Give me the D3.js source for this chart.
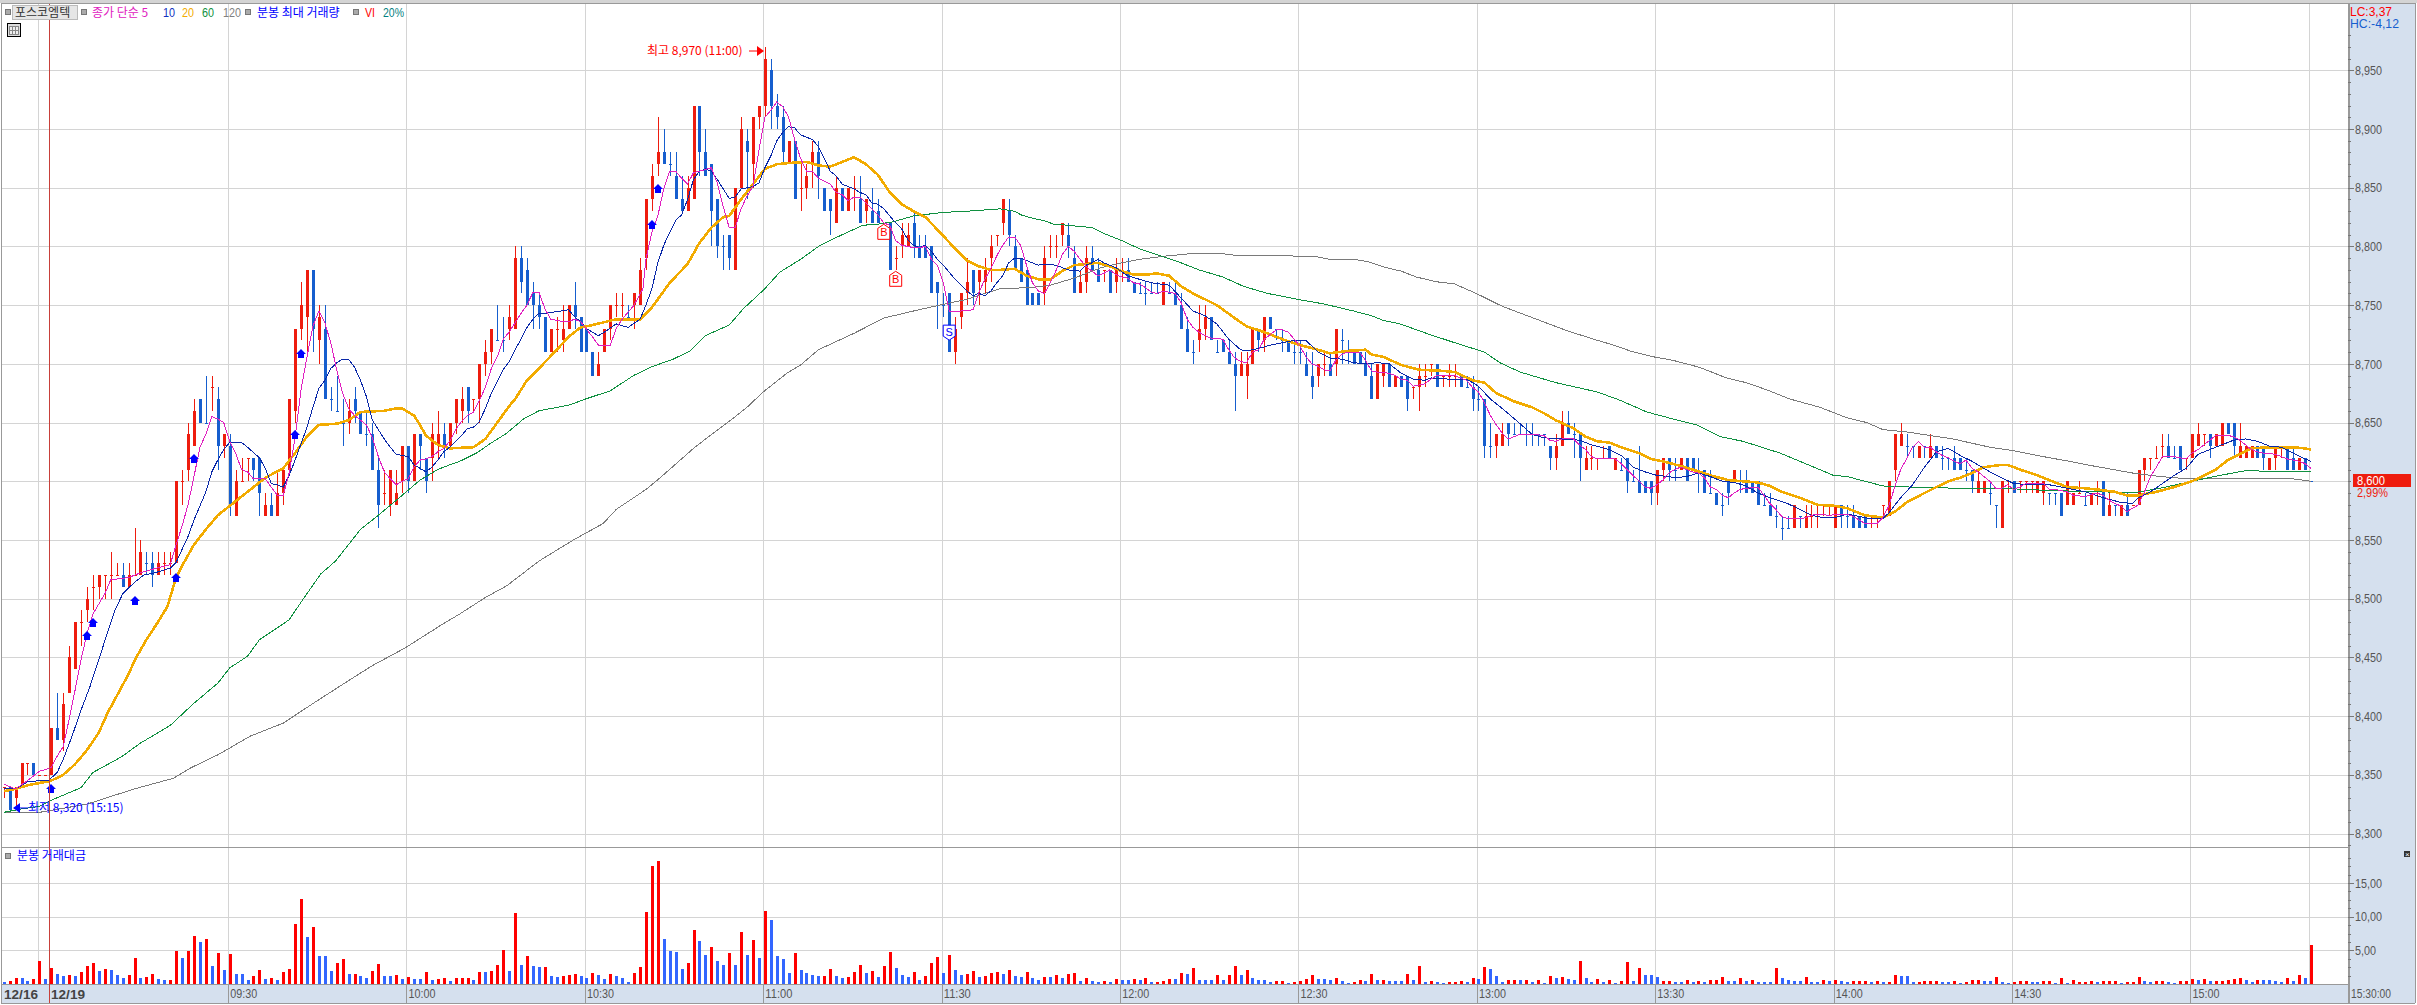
<!DOCTYPE html>
<meta charset="utf-8">
<style>
    body { margin: 0; background: #fff; }
    svg { display: block; }
    text { font-family: 'Liberation Sans', Arial, sans-serif; font-size: 13px; }
    .ko { font-family: 'Noto Sans CJK KR', sans-serif; font-size: 12px; }
</style>
<!-- Load d3.js -->
<script src="https://d3js.org/d3.v7.min.js"></script>
<div id="my_dataviz"></div>
<script>

// one minute candles, index 0-7 are the end of 12/16, index 8 is 09:00 on 12/19
var opens = [
  8340,8340,8330,8340,8360,8360,8350,8350,8350,8390,
  8380,8420,8440,8480,8490,8510,8510,8520,8520,8520,
  8520,8510,8520,8520,8530,8530,8520,8530,8530,8530,
  8600,8610,8630,8670,8650,8680,8670,8630,8630,8570,
  8600,8620,8620,8620,8570,8580,8570,8590,8610,8660,
  8730,8740,8780,8720,8730,8670,8660,8650,8650,8670,
  8660,8640,8640,8610,8590,8580,8580,8600,8630,8600,
  8640,8620,8620,8630,8640,8630,8650,8660,8680,8670,
  8670,8700,8710,8720,8720,8730,8730,8790,8780,8760,
  8750,8740,8710,8730,8720,8730,8750,8740,8730,8710,
  8690,8710,8730,8750,8750,8740,8750,8750,8790,8840,
  8870,8880,8870,8860,8840,8830,8840,8920,8880,8870,
  8840,8800,8810,8780,8850,8890,8870,8910,8920,8950,
  8920,8910,8870,8890,8850,8850,8870,8880,8850,8840,
  8820,8850,8830,8850,8840,8830,8830,8830,8820,8820,
  8790,8800,8800,8820,8800,8800,8800,8770,8750,8760,
  8710,8740,8760,8780,8770,8770,8790,8810,8820,8830,
  8800,8790,8780,8760,8760,8760,8800,8800,8810,8810,
  8790,8760,8770,8790,8780,8780,8780,8770,8780,8780,
  8770,8760,8760,8760,8760,8750,8760,8760,8750,8730,
  8710,8720,8730,8740,8710,8720,8710,8700,8690,8690,
  8700,8730,8720,8740,8730,8720,8720,8710,8710,8700,
  8690,8690,8700,8700,8700,8720,8710,8710,8710,8700,
  8690,8670,8690,8700,8680,8690,8690,8680,8680,8690,
  8700,8700,8690,8690,8690,8690,8680,8680,8670,8670,
  8630,8630,8630,8650,8640,8640,8640,8640,8640,8640,
  8630,8620,8630,8650,8640,8640,8610,8620,8620,8620,
  8630,8610,8610,8620,8600,8600,8600,8600,8590,8610,
  8620,8610,8610,8620,8620,8610,8610,8590,8590,8580,
  8600,8600,8600,8600,8600,8600,8580,8580,8570,8560,
  8560,8560,8570,8560,8570,8570,8580,8580,8560,8580,
  8570,8570,8570,8570,8570,8570,8580,8570,8610,8630,
  8630,8630,8620,8630,8620,8630,8620,8620,8620,8620,
  8610,8610,8590,8590,8590,8580,8560,8600,8600,8600,
  8600,8600,8590,8590,8590,8590,8590,8580,8580,8590,
  8580,8580,8590,8600,8570,8580,8570,8580,8580,8580,
  8610,8620,8620,8630,8630,8620,8630,8620,8620,8630,
  8640,8640,8630,8630,8650,8650,8620,8620,8620,8630,
  8630,8610,8620,8630,8630,8620,8610,8620,8600];
var highs = [
  8340,8340,8340,8360,8360,8360,8350,8350,8390,8420,
  8420,8460,8480,8490,8510,8520,8520,8520,8540,8530,
  8530,8530,8560,8550,8540,8540,8540,8540,8540,8600,
  8610,8650,8670,8670,8690,8690,8680,8640,8640,8610,
  8620,8620,8620,8620,8590,8590,8610,8610,8670,8730,
  8770,8780,8780,8750,8750,8680,8690,8670,8670,8680,
  8660,8660,8650,8620,8610,8610,8610,8630,8630,8640,
  8640,8620,8650,8660,8650,8650,8670,8680,8680,8670,
  8700,8720,8730,8750,8740,8750,8800,8800,8790,8770,
  8760,8740,8730,8740,8750,8750,8770,8740,8730,8710,
  8710,8730,8750,8760,8760,8750,8760,8790,8840,8870,
  8910,8900,8880,8880,8860,8860,8920,8920,8900,8870,
  8840,8810,8810,8850,8910,8900,8910,8920,8970,8960,
  8930,8920,8890,8890,8870,8870,8890,8890,8850,8840,
  8860,8850,8850,8860,8860,8840,8850,8840,8820,8820,
  8800,8820,8820,8830,8810,8810,8800,8770,8760,8760,
  8740,8760,8790,8780,8780,8790,8810,8810,8840,8840,
  8810,8790,8780,8760,8760,8800,8810,8810,8820,8820,
  8800,8780,8800,8800,8790,8780,8780,8790,8790,8790,
  8770,8770,8770,8770,8770,8770,8770,8770,8760,8740,
  8720,8750,8750,8740,8720,8720,8720,8710,8710,8710,
  8730,8730,8740,8740,8730,8730,8720,8720,8720,8710,
  8710,8700,8710,8710,8730,8730,8720,8710,8710,8710,
  8700,8700,8700,8700,8690,8690,8690,8680,8700,8700,
  8700,8700,8690,8700,8700,8690,8690,8690,8680,8670,
  8650,8640,8650,8650,8650,8650,8650,8650,8640,8640,
  8630,8640,8660,8660,8650,8640,8630,8630,8620,8630,
  8630,8620,8620,8620,8610,8630,8600,8600,8610,8620,
  8620,8620,8620,8620,8620,8620,8610,8610,8590,8590,
  8600,8610,8610,8610,8600,8600,8590,8590,8580,8570,
  8570,8580,8570,8580,8580,8580,8580,8580,8580,8580,
  8580,8580,8570,8570,8570,8570,8580,8600,8640,8650,
  8640,8630,8630,8630,8640,8630,8630,8620,8630,8620,
  8620,8610,8610,8600,8600,8580,8600,8600,8600,8600,
  8600,8600,8600,8600,8590,8590,8590,8600,8590,8600,
  8590,8590,8600,8600,8590,8580,8580,8590,8580,8610,
  8620,8620,8630,8640,8640,8630,8630,8620,8640,8650,
  8640,8640,8640,8650,8650,8650,8650,8630,8630,8630,
  8630,8620,8630,8630,8630,8630,8620,8620,8600];
var lows = [
  8330,8320,8320,8340,8350,8350,8350,8350,8350,8380,
  8370,8420,8440,8460,8480,8490,8500,8500,8500,8520,
  8510,8510,8520,8520,8520,8510,8520,8520,8520,8530,
  8580,8600,8630,8650,8650,8660,8610,8620,8570,8570,
  8600,8600,8600,8570,8570,8570,8570,8580,8610,8650,
  8720,8710,8710,8700,8670,8660,8660,8630,8640,8650,
  8640,8630,8610,8560,8580,8570,8580,8590,8590,8600,
  8610,8590,8600,8620,8620,8630,8640,8650,8650,8660,
  8650,8690,8700,8720,8710,8720,8730,8760,8750,8730,
  8730,8710,8710,8710,8710,8730,8730,8710,8710,8690,
  8690,8710,8720,8740,8740,8740,8730,8750,8780,8830,
  8860,8870,8860,8840,8830,8830,8840,8860,8860,8800,
  8790,8780,8780,8780,8850,8840,8850,8900,8910,8900,
  8900,8870,8870,8840,8830,8840,8850,8840,8830,8810,
  8820,8830,8830,8830,8820,8820,8820,8820,8820,8780,
  8780,8790,8800,8790,8790,8790,8760,8730,8740,8710,
  8700,8730,8750,8750,8750,8760,8770,8800,8810,8800,
  8780,8770,8750,8750,8750,8750,8790,8790,8800,8790,
  8760,8760,8760,8780,8770,8770,8760,8760,8770,8770,
  8760,8760,8750,8760,8760,8750,8760,8750,8730,8710,
  8700,8710,8720,8720,8710,8710,8700,8660,8690,8670,
  8700,8710,8710,8730,8720,8710,8710,8700,8700,8690,
  8670,8680,8690,8690,8690,8700,8700,8700,8700,8690,
  8670,8670,8680,8680,8680,8680,8660,8670,8660,8680,
  8690,8680,8680,8680,8680,8680,8680,8660,8660,8620,
  8620,8620,8630,8630,8640,8640,8630,8630,8630,8630,
  8610,8610,8630,8640,8620,8600,8610,8610,8610,8620,
  8620,8610,8610,8590,8600,8590,8590,8580,8580,8600,
  8600,8600,8610,8600,8610,8590,8590,8590,8580,8570,
  8580,8600,8590,8590,8590,8580,8580,8570,8560,8550,
  8560,8560,8560,8560,8560,8560,8570,8570,8560,8560,
  8560,8560,8560,8560,8560,8560,8570,8570,8600,8630,
  8620,8620,8620,8620,8620,8620,8610,8610,8610,8610,
  8600,8590,8590,8590,8580,8560,8560,8590,8590,8590,
  8590,8590,8590,8580,8580,8580,8570,8580,8580,8590,
  8580,8580,8580,8570,8570,8570,8570,8570,8580,8580,
  8600,8610,8620,8620,8620,8620,8610,8610,8620,8630,
  8630,8620,8630,8630,8640,8620,8620,8620,8620,8620,
  8610,8610,8610,8620,8610,8610,8610,8610,8600];
var closes = [
  8340,8320,8340,8360,8360,8350,8350,8350,8390,8380,
  8410,8450,8480,8480,8500,8510,8520,8520,8520,8520,
  8510,8520,8520,8540,8530,8520,8530,8530,8530,8600,
  8600,8640,8660,8650,8650,8680,8630,8640,8580,8600,
  8600,8620,8610,8590,8580,8570,8590,8610,8670,8730,
  8750,8780,8730,8740,8670,8670,8660,8650,8660,8660,
  8640,8640,8610,8580,8590,8610,8590,8630,8600,8640,
  8630,8600,8640,8640,8630,8650,8670,8670,8660,8670,
  8700,8710,8730,8720,8720,8740,8790,8770,8750,8750,
  8740,8710,8730,8730,8730,8750,8740,8710,8710,8690,
  8700,8730,8750,8750,8750,8740,8760,8780,8840,8860,
  8880,8870,8870,8840,8830,8850,8920,8880,8860,8830,
  8800,8800,8790,8850,8900,8880,8910,8920,8960,8920,
  8910,8880,8890,8840,8850,8860,8880,8860,8830,8830,
  8850,8830,8850,8850,8820,8840,8820,8820,8820,8780,
  8790,8810,8810,8800,8790,8790,8760,8760,8750,8710,
  8730,8760,8770,8760,8780,8780,8800,8810,8840,8810,
  8780,8770,8750,8750,8750,8790,8800,8800,8820,8800,
  8760,8770,8790,8780,8770,8780,8760,8780,8780,8770,
  8760,8760,8760,8760,8760,8770,8760,8750,8730,8710,
  8710,8730,8740,8720,8710,8710,8700,8690,8700,8700,
  8730,8720,8740,8730,8730,8720,8710,8710,8710,8690,
  8680,8700,8700,8690,8730,8720,8710,8700,8700,8690,
  8670,8700,8700,8680,8690,8680,8670,8680,8690,8690,
  8700,8680,8690,8690,8690,8680,8680,8670,8670,8630,
  8630,8640,8640,8640,8640,8640,8640,8640,8640,8640,
  8620,8630,8650,8640,8640,8620,8620,8620,8620,8620,
  8620,8620,8610,8600,8600,8590,8590,8590,8610,8620,
  8610,8610,8620,8600,8610,8610,8590,8590,8580,8580,
  8590,8610,8600,8590,8590,8580,8580,8570,8570,8560,
  8560,8580,8570,8570,8570,8570,8580,8580,8580,8570,
  8570,8560,8560,8560,8570,8570,8580,8600,8640,8640,
  8630,8630,8630,8630,8630,8620,8620,8620,8610,8610,
  8610,8600,8600,8600,8590,8580,8600,8600,8590,8600,
  8600,8600,8600,8600,8590,8590,8570,8600,8590,8590,
  8580,8590,8590,8570,8580,8580,8580,8570,8580,8610,
  8620,8620,8620,8630,8620,8620,8610,8620,8640,8640,
  8640,8630,8640,8650,8640,8630,8630,8630,8630,8620,
  8620,8620,8630,8630,8610,8610,8620,8610,8600];

// flat candles drawn blue, all other flat candles are red
var blueDoji = [24,34,55,56,57,61,83,84,105,112,121,158,191,192,193,194,196,200,204,214,215,217,218,
  225,226,246,248,250,254,255,256,257,258,259,264,272,274,281,285,287,289,292,296,298,299,300,302,310,
  320,321,323,326,327,330,334,335,344,345,350,355,365,388];

// minute value traded, negative = blue bar
var volumes = [
  -0.3,0.4,0.9,-0.9,-0.45,0.75,3.45,-0.75,2.4,-1.5,
  -1.2,1.35,-1.2,1.8,2.7,3.15,-1.95,2.25,-2.1,-1.35,
  -0.9,1.35,3.9,-0.9,1.05,1.5,-0.75,-0.6,0.6,4.95,
  -3.9,4.95,7.2,-6.3,6.75,-2.7,4.65,-2.1,4.5,-1.5,
  -1.5,-0.6,1.2,2.1,-0.75,0.9,-0.6,1.8,2.25,8.85,
  12.6,-7.05,8.4,-4.2,-4.2,-1.95,3.15,3.75,-1.5,1.5,
  -1.2,-0.9,1.95,3,-1.2,-1.2,1.35,-0.75,1.05,-0.75,
  -0.75,1.8,-0.6,0.75,0.9,-0.45,0.9,0.9,0.9,-0.6,
  1.8,-1.8,1.95,2.85,
  5.0,-1.95,10.5,-2.85,4.2,-2.7,-2.55,2.55,-1.2,-1.05,
  1.2,1.35,1.5,-1.2,-0.9,1.65,-1.35,-0.75,1.5,-1.2,
  -0.9,-0.3,1.65,2.55,10.65,17.55,18.3,-6.75,-4.95,-4.8,
  -2.25,3.15,7.95,-6.45,-4.35,5.55,-3.45,-2.85,4.65,-2.85,
  7.65,-4.35,6.6,-3.9,10.8,-9.45,-4.2,-3.75,-1.65,4.65,
  -2.1,-1.65,-1.35,-1.2,1.2,2.25,-1.2,-0.9,1.05,1.8,
  2.85,-1.65,1.95,-1.05,2.7,4.8,-2.4,-1.35,-1.05,1.8,
  -0.6,1.2,3.15,4.05,-1.65,4.35,-2.1,-1.35,1.5,1.95,
  -1.05,1.2,1.65,1.8,-1.5,2.1,-1.2,-1.05,1.8,-0.9,
  -0.6,1.05,-1.05,1.35,-0.9,1.5,1.65,-0.45,0.9,-0.45,
  -0.3,0.45,-0.3,0.75,-0.6,-0.6,0.75,-0.6,0.9,-0.3,
  0.3,0.45,0.75,-0.75,1.65,-1.5,2.4,-0.6,
  -0.6,-0.6,1.35,-0.6,1.35,2.7,-1.35,2.1,-0.9,-0.6,
  -0.6,-0.3,0.45,0.45,-0.15,0.3,0.45,0.75,1.35,-0.75,
  -0.75,-0.6,0.9,-0.45,-0.15,0.3,0.6,-0.45,1.5,-0.6,
  0.6,-0.45,-0.45,-0.45,1.5,-0.6,2.7,-0.3,0.45,-0.3,
  -0.15,0.3,0.3,0.45,-0.3,0.9,-0.75,2.55,-2.25,-1.2,
  -0.3,0.6,0.6,-0.6,0.6,-0.3,0.6,-0.15,1.2,-0.9,
  1.05,-0.75,-0.6,3.45,-0.9,-0.3,0.75,-0.3,0.6,-0.15,
  0.45,3.3,-0.45,2.4,-1.35,-1.35,-1.05,0.45,0.45,-0.3,
  -0.3,0.6,-0.3,0.45,-0.3,0.6,0.6,1.05,-0.45,-0.45,
  0.9,-0.45,0.6,-0.3,-0.3,-0.3,2.4,-0.9,-0.6,-0.45,
  -0.45,1.05,-0.3,-0.3,0.6,-0.45,0.6,-0.45,-0.3,0.45,
  0.45,0.45,-0.3,0.45,-0.3,0.3,1.35,-1.2,-1.2,-0.3,
  0.3,0.45,0.45,0.45,-0.3,-0.3,0.45,-0.15,0.3,0.6,
  0.6,-0.45,-0.45,1.05,-0.3,-0.15,0.3,0.45,0.45,-0.3,
  -0.3,0.45,0.45,-0.15,0.9,-0.15,0.6,0.3,0.3,0.45,
  -0.3,0.45,0.45,0.45,-0.15,0.3,0.3,1.05,-0.45,-0.3,
  0.45,0.45,-0.3,-0.15,0.45,0.45,0.75,-0.6,0.75,-0.45,
  0.45,0.45,0.6,0.75,0.9,-0.6,-0.3,0.6,-0.6,-0.6,
  -0.45,-0.3,0.9,-0.45,1.35,-0.9,5.85];

// moving averages as [candle index, price]
var ma5 = [[0,8342],[2,8338],[4,8345],[6,8353],[8,8356],[9,8366],[10,8374],[11,8397],[12,8422],[13,8448],[14,8470],[15,8487],[17,8504],[18,8516],[21,8518],[23,8522],[25,8525],[28,8529],
  [29,8546],[30,8562],[31,8580],[32,8604],[33,8629],[34,8640],[35,8655],[36,8653],[37,8650],[38,8634],[39,8624],[40,8610],[41,8608],[42,8602],[44,8602],[46,8588],[47,8588],
  [48,8607],[49,8637],[50,8678],[51,8706],[52,8732],[53,8745],[54,8735],[55,8718],[56,8695],[57,8675],[58,8662],[59,8656],[60,8652],[61,8648],[62,8637],[63,8621],[64,8608],[65,8602],[66,8597],[67,8600],[68,8602],[69,8612],[70,8618],[71,8619],[72,8621],[73,8625],[74,8628],[75,8634],[76,8644],[77,8651],[78,8656],[79,8659],[80,8669],[81,8680],[82,8696],[83,8706],[84,8721],[85,8727],[86,8735],[87,8743],[88,8750],
  [89,8761],[90,8761],[91,8747],[92,8738],[94,8736],[95,8736],[96,8738],[97,8736],[99,8723],[100,8716],[102,8716],[103,8730],[104,8738],[106,8750],[107.5,8764],[108,8789],[109,8812],[110,8826],[111,8849],[112,8864],[113,8864],[114,8858],[115,8853],[116,8863],[117,8864],[119,8867],[120,8854],[121,8834],[122,8816],[123,8816],[124,8832],[125,8843],[126,8851],[127,8882],[128,8910],[129,8916],[130,8923],[131,8919],[132,8910],[133,8891],[134,8875],[135,8864],[136,8864],[137,8858],[139,8853],[140,8846],[141,8844],[142,8839],[143,8842],[144,8842],[145,8837],[146,8832],[147,8827],[148,8820],[149,8818],[150,8805],[151,8801],[152,8800],[153,8799],[154,8799],[155,8800],[156,8789],[157,8784],[158,8769],[159,8745],[160,8745],[161,8745],[163,8746],[164,8761],[165,8772],[166,8781],[167,8792],
  [168,8801],[169,8808],[170,8808],[171,8801],[172,8784],[173,8769],[174,8762],[175,8760],[176,8769],[177,8780],[178,8793],[179,8800],[180,8796],[181,8789],[182,8783],[183,8779],[184,8775],[185,8777],[186,8780],[187,8776],[188,8774],[189,8773],[190,8769],[191,8768],[192,8765],[193,8761],[194,8760],[195,8762],[196,8761],[197,8760],[198,8752],[199,8738],[200,8731],[201,8727],[202,8724],[203,8722],[205,8721],[206,8712],[207,8705],[208,8702],[209,8701],[210,8710],[211,8712],[212,8721],[213,8725],[214,8729],[215,8729],[216,8727],[217,8721],[218,8715],[219,8706],[220,8700],[221,8698],[222,8695],[223,8694],[224,8703],[225,8708],[226,8710],[228,8710],[229,8703],[230,8694],[231,8693],[233,8692],[234,8690],[235,8687],[236,8686],[237,8681],[238,8682],[239,8683],[240,8687],[241,8690],[244,8690],[245,8688],[246,8686],[247,8680],[248,8676],[249,8667],[250,8656],[251,8648],
  [252,8641],[253,8636],[254,8638],[255,8640],[257,8640],[259,8639],[260,8635],[261,8634],[262,8636],[264,8636],[265,8631],[266,8627],[267,8621],[268,8619],[270,8619],[271,8619],[272,8615],[273,8610],[274,8605],[275,8600],[276,8595],[277,8594],[278,8597],[279,8601],[280,8607],[281,8610],[282,8612],[283,8610],[284,8608],[285,8607],[286,8603],[287,8595],[288,8593],[289,8588],[290,8586],[291,8590],[292,8593],[293,8594],[295,8595],[296,8588],[297,8581],[298,8576],[299,8570],[300,8568],[302,8568],[303,8569],[304,8571],[305,8572],[307,8571],[309,8572],[310,8572],[311,8570],[312,8567],[313,8564],[315,8564],[316,8569],[317,8579],[318,8595],[319,8610],[320,8619],[321,8629],[322,8634],[323,8629],[324,8629],[325,8625],[326,8622],[327,8620],[328,8617],[329,8615],
  [330,8618],[331,8611],[332,8608],[333,8604],[334,8600],[335,8594],[336,8594],[337,8597],[338,8593],[339,8595],[340,8598],[343,8598],[344,8593],[345,8593],[347,8591],[348,8588],[350,8587],[352,8590],[353,8588],[354,8584],[355,8581],[356,8579],[357,8574],[358,8577],[359,8580],[360,8591],[361,8604],[362,8612],[363,8621],[365,8621],[366,8620],[367,8619],[368,8624],[369,8627],[370,8631],[371,8635],[372,8639],[374,8639],[375,8638],[376,8635],[377,8631],[378,8627],[379,8625],[380,8624],[382,8623],[383,8621],[384,8619],[385,8618],[386,8617],[387,8615],[388,8611]];

var ma10 = [[0,8338],[2,8338],[4,8344],[6,8345],[7.5,8345],[9,8352],[10,8363],[11.5,8383],[13,8405],[14.5,8425],[16,8448],[17.3,8469],[18.7,8490],[20,8504],[21.8,8513],[23.5,8520],[25.4,8522],[28,8526],
  [29,8531],[30,8542],[31,8553],[32,8567],[33,8579],[34,8591],[35,8608],[36,8618],[37,8627],[38,8633],[40,8633],[41,8629],[43,8620],[44,8611],[45,8598],[46,8597],[47,8595],[48,8605],[49,8618],[50,8632],[51,8646],[52,8663],[53,8679],[54,8686],[55,8696],[56,8701],[57,8704],[58,8704],[59,8697],[60,8686],[61,8672],[62,8652],[63,8644],[64,8636],[65,8629],[66,8623],[67,8622],[68,8621],[69,8614],[70,8611],[71,8608],[72,8612],[73,8618],[74,8625],[75,8629],[76,8634],[77,8639],[78,8645],[79,8646],[80,8651],[81,8662],[82,8675],[83,8685],[84,8695],[85,8702],[86,8712],[87,8721],[88,8731],
  [89,8738],[90,8743],[91,8743],[95,8746],[96,8740],[97,8736],[98,8730],[100,8724],[101,8727],[103,8734],[105,8731],[107,8738],[108,8750],[109,8764],[110,8786],[111,8801],[112,8812],[113,8822],[114,8827],[115,8840],[116,8857],[117,8864],[118,8866],[119,8864],[120,8857],[121,8849],[122,8841],[123,8842],[124,8849],[126,8851],[127,8854],[128,8867],[129,8877],[130,8890],[131,8897],[132,8902],[133,8901],[134,8895],[135,8893],[136,8891],[137,8885],[138,8875],[139,8864],[140,8860],[141,8853],[143,8849],[144,8846],[145,8844],[146,8837],[147,8836],[148,8832],[149,8826],[150,8820],[151,8815],[152,8806],[153,8801],[154,8799],[155,8801],[156,8796],[157,8789],[158,8784],[159,8778],[160,8772],[161,8767],[162,8762],[163,8758],[164,8760],[165,8758],[166,8762],[167,8769],
  [168,8775],[169,8786],[170,8790],[171,8790],[172,8788],[174,8784],[175,8785],[177,8784],[179,8780],[181,8779],[182,8784],[183,8786],[184,8789],[185,8786],[187,8782],[189,8775],[191,8772],[193,8769],[196,8767],[198,8756],[200,8745],[202,8741],[204,8734],[206,8721],[208,8712],[209,8711],[211,8713],[213,8716],[215,8718],[217,8720],[219,8720],[221,8710],[223,8705],[225,8704],[227,8701],[229,8700],[231,8701],[233,8700],[235,8692],[237,8687],[239,8686],[240,8688],[243,8687],[246,8687],[248,8681],[250,8670],[252,8662],
  [255,8649],[257,8640],[259,8637],[262,8636],[265,8635],[267,8631],[270,8627],[272,8622],[274,8612],[276,8608],[278,8605],[280,8604],[281,8603],[283,8604],[285,8607],[287,8604],[289,8600],[291,8599],[293,8596],[295,8590],[297,8586],[300,8581],[302,8576],[304,8571],[306,8569],[308,8569],[310,8572],[312,8570],[314,8568],[316,8568],[317,8573],[319,8586],[321,8597],[323,8612],[325,8625],[327,8628],[329,8622],[331,8617],[334,8608],[336,8603],[338,8598],[341,8597],[344,8597],[347,8594],[350,8591],[353,8586],[356,8582],[358,8581],[359,8586],[361,8591],[363,8598],[365,8605],[367,8611],[369,8623],[371,8627],[373,8631],[375,8635],[377,8636],[379,8634],[381,8630],[383,8629],[385,8624],[387,8619],[388,8617]];

var ma20 = [[0,8336],[2,8338],[4,8341],[6,8343],[8,8345],[10,8350],[12,8359],[14,8371],[16,8386],[17.5,8403],[19,8417],[20.8,8434],[22.4,8451],[24,8465],[25.8,8479],[27.5,8493],[29,8518],[30,8528],[32,8546],[34,8559],[36,8571],[38,8579],[40,8587],[42,8595],[44,8603],[47,8611],[49,8624],[51,8638],[53,8648],[56,8649],[58,8652],[60,8659],[64,8660],[66,8662],[67,8662],[69,8656],[70,8648],[71,8639],[73,8631],[75,8628],[79,8629],[81,8636],[83,8650],[85,8664],[86,8670],[88,8686],[90,8696],[93,8712],[95,8723],[97,8731],[99,8733],[103,8738],[107,8738],[109,8748],[112,8769],[115,8785],[117,8803],[119,8816],[121,8825],[122,8826],[124,8840],[126,8853],[128,8866],[130,8870],[132,8871],[135,8872],[137,8869],[139,8868],[141,8872],[143,8876],[145,8870],[147,8861],[149,8846],[151,8836],[153,8830],[155,8825],[158,8809],[160,8798],[162,8788],[164,8783],[166,8780],[167.5,8780],
  [170,8781],[172,8775],[174,8772],[176,8772],[178,8779],[180,8784],[182,8785],[184,8786],[186,8783],[188,8779],[190,8776],[192,8776],[194,8777],[196,8775],[198,8766],[200,8760],[202,8755],[204,8750],[207,8739],[209,8732],[212,8727],[215,8721],[218,8716],[221,8712],[223,8709],[226,8711],[229,8712],[230,8708],[232,8706],[235,8699],[238,8695],[242,8694],[244,8693],[247,8686],[249,8684],[251,8675],[254,8668],[257,8663],[259,8658],[261,8652],[264,8645],[266,8638],[268,8634],[270,8633],[272,8629],[275,8624],[277,8619],[279,8617],[282,8613],[284,8610],[287,8605],[290,8601],[295,8599],[297,8596],[299,8591],[302,8586],[305,8580],[308,8579],[310,8577],[313,8571],[316,8569],[318,8574],[320,8582],[323,8590],[327,8600],[329,8603],[331,8607],[333,8612],[336,8614],[337,8614],[339,8610],[342,8605],[344,8601],[347,8595],[350,8594],[352,8593],[355,8591],[357,8588],[359,8588],[362,8591],[365,8595],[368,8600],[370,8605],[372,8610],[374,8618],[376,8623],[378,8628],[381,8629],[385,8629],[387,8628],[388,8627]];

var ma60 = [[0,8318],[3,8321],[6,8323],[8.3,8329],[13,8339],[15,8352],[19,8363],[20,8366],[23,8377],[28,8392],[32,8411],[36,8428],[38,8441],[41,8451],[43,8465],[48,8482],[50,8497],[53.3,8521],[55.8,8532],[60,8559],[63,8571],[67,8588],[70,8601],[73,8610],[75,8614],[76.7,8617],[79.5,8624],[81.8,8632],[84.6,8641],[87.4,8653],[90,8660],[95.2,8665],[97.8,8670],[102,8677],[105.9,8690],[108.7,8697],[112.6,8704],[115.4,8711],[118,8724],[122,8733],[124.4,8747],[128,8764],[130.5,8778],[134,8789],[137.3,8801],[141,8810],[144.5,8818],[147,8819],[149.6,8821],[153,8826],[158,8829],[162,8830],[167.5,8832],
  [170,8830],[171,8827],[173,8824],[175,8822],[176.5,8819],[179,8818],[183,8816],[185,8811],[188,8805],[191,8798],[194,8793],[198,8786],[201,8780],[205,8774],[208.5,8766],[212.5,8760],[217.5,8755],[222,8751],[227,8745],[230,8741],[232,8737],[234.8,8734],[239.8,8725],[244,8718],[249,8710],[251.6,8701],[255,8693],[257,8690],[261,8684],[264.5,8680],[268,8676],[271.8,8669],[276.3,8659],[280,8654],[284.7,8648],[288.6,8638],[292.5,8634],[298.7,8624],[303,8615],[307.7,8605],[310,8604],[316,8596],[321,8595],[329,8594],[336,8594],[344.6,8592],[353,8591],[358,8590],[362.6,8594],[368,8600],[372.7,8605],[377,8609],[385,8608],[388,8608]];

var ma120 = [[0,8318],[6,8318],[10.6,8322],[14,8325],[22,8338],[28.5,8347],[31.5,8356],[36,8367],[41.5,8383],[47,8394],[50,8404],[52.4,8412],[57,8427],[62,8443],[67.5,8458],[73.4,8477],[76.7,8487],[81,8501],[84.6,8511],[90,8532],[95.8,8550],[100.8,8564],[103,8576],[108,8593],[110.4,8603],[116,8628],[118.8,8639],[122,8651],[125,8663],[127.7,8676],[131.7,8692],[134,8699],[137,8712],[143,8726],[148,8739],[153,8745],[157.4,8750],[162,8755],[167.5,8764],
  [173,8765],[176,8767],[180,8773],[184.6,8782],[188,8786],[191,8789],[195.8,8792],[200,8794],[204.5,8794],[208,8792],[216,8792],[221,8791],[223,8789],[227,8789],[229.5,8787],[232.4,8782],[235,8779],[237.5,8774],[240.8,8770],[244,8768],[247.6,8760],[252,8749],[263,8728],[268,8720],[270.7,8716],[273.5,8711],[277.4,8706],[280.7,8703],[285.2,8697],[289.7,8688],[293,8684],[296.4,8678],[300.4,8670],[305.4,8663],[310,8654],[313.3,8650],[316,8644],[320,8642],[327.8,8636],[334,8629],[338,8626],[344,8620],[346.3,8618],[351.4,8613],[358,8607],[362.6,8604],[367.6,8602],[379,8602],[385,8602],[388,8600]];

// price and value axes
var priceLabels = d3.range(8300, 8951, 50);
var priceMinor = d3.range(8290, 8981, 10);
var volumeLabels = [5, 10, 15];
var volumeMinor = d3.range(1.25, 20, 1.25);

// time axis, index into the candle arrays
var timeIndex = [38,68,98,128,158,188,218,248,278,308,338,368];
var timeLabels = ["09:30","10:00","10:30","11:00","11:30","12:00","12:30","13:00","13:30","14:00","14:30","15:00"];

// entry arrows [candle index, price], buy and sell boxes [candle index, price, letter]
var arrowMarks = [[8,8338],[14,8468],[15,8479],[22,8498],[29,8518],[32,8619],[49,8639],[50,8708],[109,8818],[110,8849]];
var signalMarks = [[148,8812,"B"],[150,8772,"B"],[159,8727,"S"]];

var width = 2417, height = 1005;
var plotLeft = 2, plotRight = 2348, plotTop = 4, priceBottom = 847, volumeBottom = 984, axisBottom = 1003;

var svg = d3.select("#my_dataviz").append("svg")
    .attr("width", width)
    .attr("height", height);

var x = d3.scaleLinear().domain([0, 388]).range([3.7, 2311]);
var y = d3.scaleLinear().domain([8300, 8950]).range([833.5, 70.3]);
var v = d3.scaleLinear().domain([0, 15]).range([984, 883]);

var grid = svg.append("g").attr("shape-rendering", "crispEdges");

// frame and panels
svg.insert("rect", "g").attr("x", 0).attr("y", 0).attr("width", width).attr("height", 3).attr("fill", "#d4d4d4");
svg.insert("rect", "g").attr("x", plotRight).attr("y", 3).attr("width", 67).attr("height", axisBottom - 3).attr("fill", "#d5e0ee");
svg.insert("rect", "g").attr("x", plotLeft).attr("y", volumeBottom).attr("width", plotRight - plotLeft).attr("height", axisBottom - volumeBottom).attr("fill", "#d5e0ee");

// horizontal grid
grid.selectAll(".hp").data(priceLabels).enter().append("line")
    .attr("x1", plotLeft).attr("x2", plotRight)
    .attr("y1", function (d) { return Math.round(y(d)) + 0.5; })
    .attr("y2", function (d) { return Math.round(y(d)) + 0.5; })
    .attr("stroke", "#d4d4d4");
grid.selectAll(".hv").data(volumeLabels).enter().append("line")
    .attr("x1", plotLeft).attr("x2", plotRight)
    .attr("y1", function (d) { return Math.round(v(d)) + 0.5; })
    .attr("y2", function (d) { return Math.round(v(d)) + 0.5; })
    .attr("stroke", "#d4d4d4");

// vertical grid
var gridIndex = [6].concat(timeIndex, [388]);
grid.selectAll(".vg").data(gridIndex).enter().append("line")
    .attr("x1", function (d) { return Math.round(x(d) - 1.6) + 0.5; })
    .attr("x2", function (d) { return Math.round(x(d) - 1.6) + 0.5; })
    .attr("y1", plotTop).attr("y2", volumeBottom)
    .attr("stroke", "#d4d4d4");

// candles
var candle = svg.append("g").attr("shape-rendering", "crispEdges");
function candleColor(i) {
  if (closes[i] > opens[i]) return "#ee1c0e";
  if (closes[i] < opens[i]) return "#165ece";
  return blueDoji.indexOf(i) >= 0 ? "#165ece" : "#ee1c0e";
}
candle.selectAll(".wick").data(d3.range(opens.length)).enter().append("line")
    .attr("x1", function (i) { return Math.round(x(i)) + 0.5; })
    .attr("x2", function (i) { return Math.round(x(i)) + 0.5; })
    .attr("y1", function (i) { return y(highs[i]); })
    .attr("y2", function (i) { return y(lows[i]); })
    .attr("stroke", candleColor);
candle.selectAll(".body").data(d3.range(opens.length)).enter().append("rect")
    .attr("x", function (i) { return Math.round(x(i)) - 1; })
    .attr("y", function (i) { return y(Math.max(opens[i], closes[i])); })
    .attr("width", 3)
    .attr("height", function (i) { return Math.max(1, Math.abs(y(opens[i]) - y(closes[i]))); })
    .attr("fill", candleColor);

// moving averages
var maLine = d3.line()
    .x(function (d) { return x(d[0]); })
    .y(function (d) { return y(d[1]); });
function drawMa(data, color, w) {
  svg.append("path").attr("d", maLine(data)).attr("fill", "none").attr("stroke", color)
      .attr("stroke-width", w).attr("shape-rendering", "crispEdges");
}
drawMa(ma120, "#7a7a7a", 1);
drawMa(ma60, "#109040", 1);
drawMa(ma20, "#f2ab00", 2.6);
drawMa(ma10, "#0a28a8", 1);
drawMa(ma5, "#e020c0", 1);

// blue up arrows
svg.selectAll(".arrow").data(arrowMarks).enter().append("path")
    .attr("transform", function (d) { return "translate(" + Math.round(x(d[0])) + "," + Math.round(y(d[1])) + ")"; })
    .attr("d", "M0,-5L5,0H3V4H-3V0H-5Z")
    .attr("fill", "#0000ff");

// B / S boxes
var signal = svg.selectAll(".signal").data(signalMarks).enter().append("g")
    .attr("transform", function (d) { return "translate(" + x(d[0]) + "," + y(d[1]) + ")"; });
signal.append("path")
    .attr("d", function (d) { return d[2] == "B" ? "M0,-8L6,-4V7H-6V-4Z" : "M0,8L6,4V-7H-6V4Z"; })
    .attr("fill", "#fff")
    .attr("stroke", function (d) { return d[2] == "B" ? "#ff0000" : "#0000ff"; });
signal.append("text")
    .attr("text-anchor", "middle").attr("y", 4)
    .attr("fill", function (d) { return d[2] == "B" ? "#ff0000" : "#0000ff"; })
    .style("font-size", "11px")
    .text(function (d) { return d[2]; });

// volume bars
svg.append("g").attr("shape-rendering", "crispEdges")
  .selectAll("rect").data(volumes).enter().append("rect")
    .attr("x", function (d, i) { return Math.round(x(i)) - 1; })
    .attr("y", function (d) { return v(Math.abs(d)); })
    .attr("width", 3)
    .attr("height", function (d) { return v(0) - v(Math.abs(d)); })
    .attr("fill", function (d) { return d > 0 ? "#ff0000" : "#3366ff"; });

// frame lines
var frame = svg.append("g").attr("shape-rendering", "crispEdges").attr("stroke", "#999");
frame.append("line").attr("x1", 1.5).attr("x2", 1.5).attr("y1", 3).attr("y2", axisBottom);
frame.append("line").attr("x1", 1).attr("x2", plotRight).attr("y1", priceBottom + 0.5).attr("y2", priceBottom + 0.5);
frame.append("line").attr("x1", 1).attr("x2", plotRight).attr("y1", volumeBottom + 0.5).attr("y2", volumeBottom + 0.5);
frame.append("line").attr("x1", 1).attr("x2", 2415).attr("y1", axisBottom + 0.5).attr("y2", axisBottom + 0.5);
frame.append("line").attr("x1", 1).attr("x2", 2415).attr("y1", 3.5).attr("y2", 3.5);
frame.append("line").attr("x1", plotRight + 0.5).attr("x2", plotRight + 0.5).attr("y1", 3).attr("y2", axisBottom);
frame.append("line").attr("x1", plotRight + 1.5).attr("x2", plotRight + 1.5).attr("y1", 3).attr("y2", axisBottom);
frame.append("line").attr("x1", 2415.5).attr("x2", 2415.5).attr("y1", 3).attr("y2", axisBottom);

// 09:00 line
svg.append("line").attr("shape-rendering", "crispEdges")
    .attr("x1", 49.5).attr("x2", 49.5).attr("y1", 4).attr("y2", axisBottom)
    .attr("stroke", "#c8403a");

// right axes
function styleAxis(g) {
  g.select(".domain").remove();
  g.selectAll("line").attr("stroke", "#777").attr("shape-rendering", "crispEdges");
  g.selectAll("text").attr("fill", "#555").style("font-size", "13px")
      .attr("textLength", 27).attr("lengthAdjust", "spacingAndGlyphs");
}
svg.append("g").attr("transform", "translate(" + plotRight + ",0)")
    .call(d3.axisRight(y).tickValues(priceMinor).tickSize(3).tickFormat(""))
    .call(styleAxis);
svg.append("g").attr("transform", "translate(" + plotRight + ",0)")
    .call(d3.axisRight(y).tickValues(priceLabels.filter(function (d) { return d != 8600; })).tickSize(6).tickPadding(1).tickFormat(d3.format(",")))
    .call(styleAxis);
svg.append("g").attr("transform", "translate(" + plotRight + ",0)")
    .call(d3.axisRight(v).tickValues(volumeMinor).tickSize(3).tickFormat(""))
    .call(styleAxis);
svg.append("g").attr("transform", "translate(" + plotRight + ",0)")
    .call(d3.axisRight(v).tickValues(volumeLabels).tickSize(6).tickPadding(1).tickFormat(function (d) { return d + ",00"; }))
    .call(styleAxis)
    .selectAll("text").attr("textLength", function (d) { return d < 10 ? 21 : 27; });

// time axis
svg.append("g").attr("transform", "translate(0," + volumeBottom + ")")
    .call(d3.axisBottom(x).tickValues(timeIndex).tickSize(19).tickPadding(0).tickFormat(function (d, i) { return timeLabels[i]; }))
    .call(function (g) {
      g.select(".domain").remove();
      g.selectAll("line").attr("stroke", "#999").attr("x1", -1.6).attr("x2", -1.6).attr("shape-rendering", "crispEdges");
      g.selectAll("text").attr("fill", "#555").attr("text-anchor", "start").attr("x", 0).attr("y", 14)
        .style("font-size", "13px")
        .attr("textLength", 27).attr("lengthAdjust", "spacingAndGlyphs").attr("dy", 0);
    });

function label(xp, yp, txt, color, cls) {
  return svg.append("text").attr("x", xp).attr("y", yp).attr("fill", color).attr("class", cls || null).text(txt);
}
label(4, 999, "12/16", "#444").style("font-weight", "bold").attr("textLength", 34).attr("lengthAdjust", "spacingAndGlyphs");
label(51, 999, "12/19", "#444").style("font-weight", "bold").attr("textLength", 34).attr("lengthAdjust", "spacingAndGlyphs");
label(2351, 998, "15:30:00", "#555").attr("textLength", 40).attr("lengthAdjust", "spacingAndGlyphs");

// header legend
function squareMark(xp, yp) {
  svg.append("rect").attr("shape-rendering", "crispEdges").attr("x", xp).attr("y", yp).attr("width", 5).attr("height", 5)
      .attr("fill", "#aaa").attr("stroke", "#777");
}
squareMark(5, 9.5);
svg.append("rect").attr("shape-rendering", "crispEdges").attr("x", 12.5).attr("y", 5.5).attr("width", 65).attr("height", 14)
    .attr("fill", "#e6e6e6").attr("stroke", "#bbb");
label(15, 17, "포스코엠텍", "#333", "ko");
squareMark(81, 9.5);
label(92, 17, "종가 단순 5", "#e020c0", "ko");
label(163, 17, "10", "#1030c0").attr("textLength", 12).attr("lengthAdjust", "spacingAndGlyphs");
label(182, 17, "20", "#f2ab00").attr("textLength", 12).attr("lengthAdjust", "spacingAndGlyphs");
label(202, 17, "60", "#109040").attr("textLength", 12).attr("lengthAdjust", "spacingAndGlyphs");
label(223, 17, "120", "#808080").attr("textLength", 18).attr("lengthAdjust", "spacingAndGlyphs");
squareMark(245, 9.5);
label(257, 17, "분봉 최대 거래량", "#0000ff", "ko");
squareMark(353, 9.5);
label(365, 17, "VI", "#ff0000").attr("textLength", 10).attr("lengthAdjust", "spacingAndGlyphs");
label(383, 17, "20%", "#008080").attr("textLength", 21).attr("lengthAdjust", "spacingAndGlyphs");

// little table icon
var icon = svg.append("g").attr("shape-rendering", "crispEdges");
icon.append("rect").attr("x", 7.5).attr("y", 23.5).attr("width", 13).attr("height", 13).attr("fill", "#ddd").attr("stroke", "#000");
icon.append("rect").attr("x", 9.5).attr("y", 26.5).attr("width", 9).attr("height", 8).attr("fill", "#eee").attr("stroke", "#888");
icon.append("line").attr("x1", 12.5).attr("x2", 12.5).attr("y1", 26).attr("y2", 35).attr("stroke", "#888");
icon.append("line").attr("x1", 15.5).attr("x2", 15.5).attr("y1", 26).attr("y2", 35).attr("stroke", "#888");
icon.append("line").attr("x1", 9).attr("x2", 19).attr("y1", 30.5).attr("y2", 30.5).attr("stroke", "#888");

// high and low notes
label(647, 55, "최고 8,970 (11:00)", "#ff0000", "ko");
svg.append("path").attr("d", "M749,51H758").attr("stroke", "#ff0000");
svg.append("path").attr("d", "M764,51L757,46V56Z").attr("fill", "#ff0000");
label(28, 812, "최저 8,320 (15:15)", "#0000ff", "ko");
svg.append("path").attr("d", "M19,808H28").attr("stroke", "#0000ff");
svg.append("path").attr("d", "M13,808L20,803V813Z").attr("fill", "#0000ff");

// volume pane title
squareMark(5, 853.5);
label(17, 860, "분봉 거래대금", "#0000ff", "ko");

// close button of the pane
svg.append("rect").attr("x", 2404).attr("y", 851).attr("width", 6).attr("height", 6).attr("fill", "#333");
label(2405, 857, "×", "#fff").style("font-size", "8px");

// right side notes
label(2350, 16, "LC:3,37", "#ff0000").attr("textLength", 42).attr("lengthAdjust", "spacingAndGlyphs");
label(2350, 28, "HC:-4,12", "#165ece").attr("textLength", 49).attr("lengthAdjust", "spacingAndGlyphs");
svg.append("rect").attr("shape-rendering", "crispEdges").attr("x", 2353).attr("y", 474).attr("width", 58).attr("height", 13).attr("fill", "#ee1c0e");
label(2357, 485, "8,600", "#fff").attr("textLength", 28).attr("lengthAdjust", "spacingAndGlyphs");
label(2357, 497, "2,99%", "#ee1c0e").attr("textLength", 31).attr("lengthAdjust", "spacingAndGlyphs");

</script>
